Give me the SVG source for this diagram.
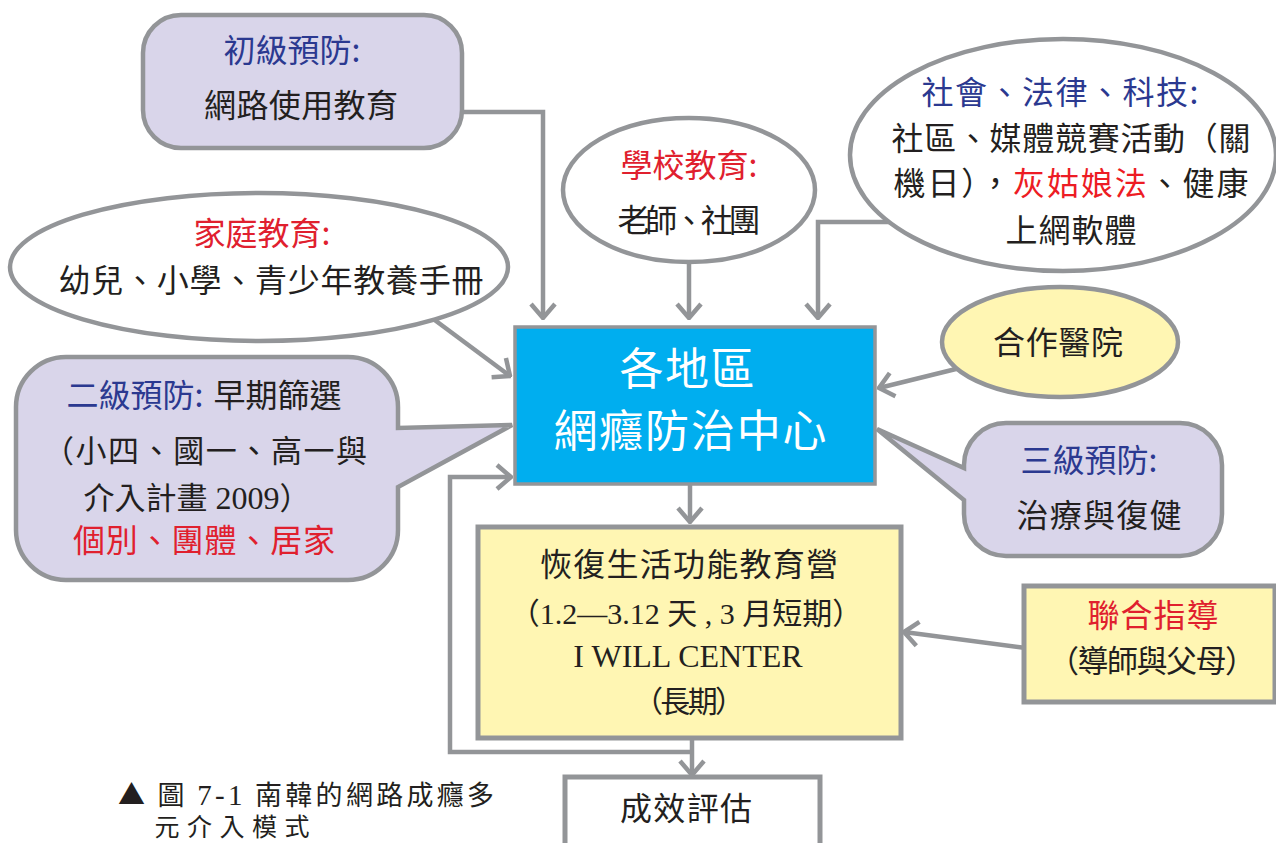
<svg xmlns="http://www.w3.org/2000/svg" width="1276" height="843" viewBox="0 0 1276 843">
<style>
.t{font-family:"Noto Sans CJK TC","Noto Sans CJK SC",sans-serif;fill:#231f20;text-anchor:middle}
.s{font-family:"Liberation Serif","Noto Sans CJK TC",serif}
.b{fill:#2b3990}
.r{fill:#e0202e}
.w{fill:#ffffff}
.ln{fill:none;stroke:#939598;stroke-width:4.5}
.nd{stroke:#939598;stroke-width:4.5}
.lav{fill:#d9d5ea}
.yel{fill:#fff6b3}
.wh{fill:#ffffff}
</style>
<defs>
<marker id="ah" markerUnits="userSpaceOnUse" viewBox="-18 -16 20 32" refX="0" refY="0" markerWidth="20" markerHeight="32" orient="auto">
<path d="M -14 -12 L 0 0 L -14 12" fill="none" stroke="#939598" stroke-width="4.5"/>
</marker>
</defs>
<rect width="1276" height="843" fill="#ffffff"/>
<g id="connectors">
<path class="ln" d="M 460 112 H 543 V 318" marker-end="url(#ah)"/>
<path class="ln" d="M 689 255 V 318" marker-end="url(#ah)"/>
<path class="ln" d="M 890 222 H 818 V 318" marker-end="url(#ah)"/>
<path class="ln" d="M 432 318 L 510 376" marker-end="url(#ah)"/>
<path class="ln" d="M 960 368 L 879 388" marker-end="url(#ah)"/>
<path class="ln" d="M 690 484 V 522" marker-end="url(#ah)"/>
<path class="ln" d="M 1026 648 L 904 632" marker-end="url(#ah)"/>
<path class="ln" d="M 692 738 V 775" marker-end="url(#ah)"/>
<path class="ln" d="M 692 752 H 450 V 477 H 511" marker-end="url(#ah)"/>
</g>
<g id="primary">
<rect class="nd lav" x="143" y="15" width="319" height="133" rx="38"/>
<text class="t b" x="292" y="62" font-size="32">初級預防:</text>
<text class="t" x="301" y="117" font-size="32" textLength="194" lengthAdjust="spacing">網路使用教育</text>
</g>
<g id="family">
<ellipse class="nd wh" cx="259" cy="267" rx="249" ry="74"/>
<text class="t r" x="262" y="245" font-size="32">家庭教育:</text>
<text class="t" x="271" y="292" font-size="32" textLength="425" lengthAdjust="spacing">幼兒、小學、青少年教養手冊</text>
</g>
<g id="school">
<ellipse class="nd wh" cx="689" cy="190" rx="126" ry="72"/>
<text class="t r" x="689" y="177" font-size="32">學校教育:</text>
<text class="t" x="689" y="232" font-size="32" textLength="143" lengthAdjust="spacing">老師、社團</text>
</g>
<g id="society">
<ellipse class="nd wh" cx="1063" cy="155" rx="213" ry="116"/>
<text class="t b" x="1060" y="104" font-size="32" textLength="277" lengthAdjust="spacing">社會、法律、科技:</text>
<text class="t" x="1071" y="150" font-size="32" textLength="359" lengthAdjust="spacing">社區、媒體競賽活動（關</text>
<text class="t" x="1071" y="195" font-size="32" textLength="355" lengthAdjust="spacing">機日），<tspan fill="#ed1c24">灰姑娘法</tspan>、健康</text>
<text class="t" x="1071" y="242" font-size="32" textLength="131" lengthAdjust="spacing">上網軟體</text>
</g>
<g id="hospital">
<ellipse class="nd yel" cx="1060" cy="342" rx="118" ry="55"/>
<text class="t" x="1058" y="354" font-size="32" textLength="130" lengthAdjust="spacing">合作醫院</text>
</g>
<g id="center">
<rect x="515" y="327" width="360" height="157" fill="#00aeef" stroke="#939598" stroke-width="3.5"/>
<text class="t w" x="687" y="385" font-size="44" textLength="135" lengthAdjust="spacing">各地區</text>
<text class="t w" x="690" y="447" font-size="44" textLength="273" lengthAdjust="spacing">網癮防治中心</text>
</g>
<g id="secondary">
<path class="nd lav" d="M 66 357 H 348 A 50 50 0 0 1 398 407 V 428 L 512 425 L 398 487 V 530 A 50 50 0 0 1 348 580 H 66 A 50 50 0 0 1 16 530 V 407 A 50 50 0 0 1 66 357 Z"/>
<text class="t" x="204" y="407" font-size="32"><tspan class="b">二級預防:</tspan><tspan dx="10">早期篩選</tspan></text>
<text class="t" x="205" y="462" font-size="31" textLength="324" lengthAdjust="spacing">（小四、國一、高一與</text>
<text class="t" x="197" y="509" font-size="31">介入計畫<tspan class="s" font-size="32"> 2009</tspan>）</text>
<text class="t r" x="204" y="552" font-size="32" textLength="262" lengthAdjust="spacing">個別、團體、居家</text>
</g>
<g id="tertiary">
<path class="nd lav" d="M 1006 423 H 1180 A 42 42 0 0 1 1222 465 V 514 A 42 42 0 0 1 1180 556 H 1006 A 42 42 0 0 1 964 514 V 500 L 877 429 L 964 468 V 465 A 42 42 0 0 1 1006 423 Z"/>
<text class="t b" x="1089" y="472" font-size="32">三級預防:</text>
<text class="t" x="1099" y="527" font-size="32" textLength="165" lengthAdjust="spacing">治療與復健</text>
</g>
<g id="camp">
<rect class="yel" x="478" y="527" width="423" height="211" stroke="#939598" stroke-width="5"/>
<text class="t" x="689" y="576" font-size="32" textLength="298" lengthAdjust="spacing">恢復生活功能教育營</text>
<text class="t" x="686" y="624" font-size="30">（<tspan class="s">1.2—3.12 </tspan>天<tspan class="s"> , 3 </tspan>月短期）</text>
<text class="t s" x="688" y="667" font-size="32">I WILL CENTER</text>
<text class="t" x="689" y="712" font-size="30" textLength="112" lengthAdjust="spacing">（長期）</text>
</g>
<g id="joint">
<rect class="yel" x="1024" y="586" width="251" height="116" stroke="#939598" stroke-width="5"/>
<text class="t r" x="1153" y="627" font-size="32" textLength="131" lengthAdjust="spacing">聯合指導</text>
<text class="t" x="1152" y="672" font-size="31" textLength="208" lengthAdjust="spacing">（導師與父母）</text>
</g>
<g id="evaluation">
<rect class="wh" x="565" y="777" width="255" height="90" stroke="#939598" stroke-width="5"/>
<text class="t" x="686" y="820" font-size="32" textLength="132" lengthAdjust="spacing">成效評估</text>
</g>
<g id="caption">
<text class="t" x="306" y="805" font-size="27" textLength="376" lengthAdjust="spacing">▲ 圖 <tspan class="s" font-size="29">7-1</tspan> 南韓的網路成癮多</text>
<text class="t" x="232" y="836" font-size="25" textLength="155" lengthAdjust="spacing">元介入模式</text>
</g>
</svg>
